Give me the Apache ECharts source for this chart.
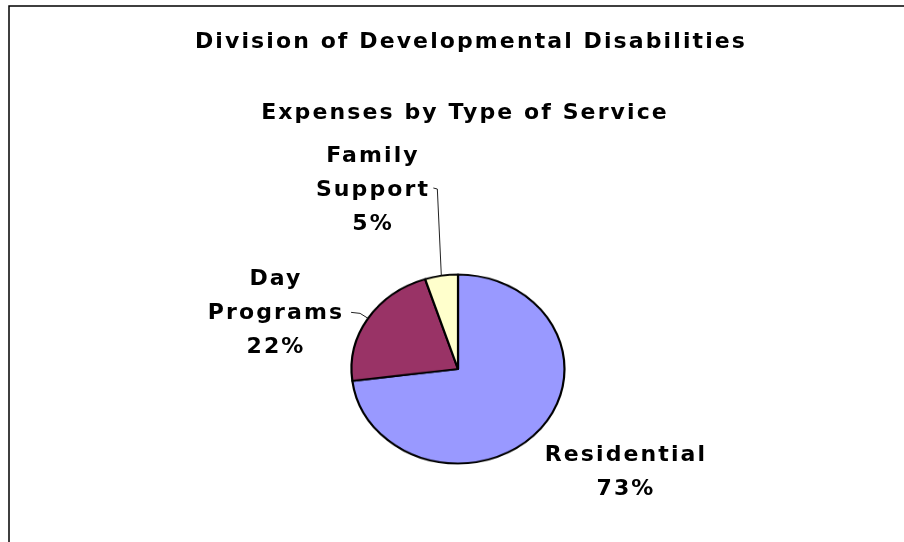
<!DOCTYPE html>
<html>
<head>
<meta charset="utf-8">
<script src="https://cdn.jsdelivr.net/npm/echarts@6/dist/echarts.min.js"></script>
<style>
  body { margin: 0; background: #fff; }
  .layer { position: absolute; left: 0; top: 0; width: 904px; height: 542px; }
  /* the pie is drawn round and squeezed to the oval of the original */
  #pie { z-index: 0; transform-origin: 458px 369px; transform: scaleY(0.8873); }
  #top { z-index: 1; }
  #top text { letter-spacing: 2.1px; }
</style>
</head>
<body>
<div id="pie" class="layer"></div>
<div id="top" class="layer"></div>
<script>
// data
const categories = ['Residential', 'Day Programs', 'Family Support']
const values = [73, 22, 5]
const colors = ['#9999FF', '#993366', '#FFFFCC']

const cx = 458
const cy = 369
const rx = 106.5
const ky = 0.8873 // vertical squeeze of the oval
const font = 'DejaVu Sans, Verdana, sans-serif'

// label block centres
const labelPos = [
  [626, 470],
  [276, 311],
  [373, 188]
]

const pieData = categories.map(function (name, i) {
  return { name: name, value: values[i], itemStyle: { color: colors[i] } }
})

const pieChart = echarts.init(document.getElementById('pie'))
pieChart.setOption({
  animation: false,
  series: [
    {
      type: 'pie',
      center: [cx, cy],
      radius: rx,
      startAngle: 90,
      clockwise: true,
      silent: true,
      label: { show: false },
      labelLine: { show: false },
      itemStyle: { borderColor: '#000', borderWidth: 2.2 },
      data: pieData
    }
  ]
})

const topChart = echarts.init(document.getElementById('top'), null, { renderer: 'svg' })
topChart.setOption({
  animation: false,
  title: [
    {
      text: 'Division of Developmental Disabilities',
      left: 471,
      top: 29,
      textAlign: 'center',
      padding: 0,
      textStyle: { fontFamily: font, fontSize: 22, fontWeight: 'bold', color: '#000', lineHeight: 22 }
    },
    {
      text: 'Expenses by Type of Service',
      left: 465,
      top: 100,
      textAlign: 'center',
      padding: 0,
      textStyle: { fontFamily: font, fontSize: 22, fontWeight: 'bold', color: '#000', lineHeight: 22 }
    }
  ],
  graphic: [
    {
      type: 'rect',
      shape: { x: 9, y: 6, width: 1200, height: 1200 },
      style: { fill: 'none', stroke: '#000', lineWidth: 1.5 },
      silent: true
    }
  ],
  series: [
    {
      type: 'pie',
      center: [cx, cy],
      radius: rx,
      startAngle: 90,
      clockwise: true,
      silent: true,
      itemStyle: { color: 'rgba(0,0,0,0)', borderWidth: 0 },
      label: {
        show: true,
        position: 'outside',
        color: '#000',
        fontFamily: font,
        fontSize: 22,
        fontWeight: 'bold',
        lineHeight: 34,
        formatter: function (p) {
          return p.name.replace(' ', '\n') + '\n' + Math.round(p.percent) + '%'
        }
      },
      labelLine: {
        show: true,
        length: 20,
        length2: 10,
        lineStyle: { color: '#222', width: 1 }
      },
      labelLayout: function (p) {
        const i = p.dataIndex
        const res = { x: labelPos[i][0], y: labelPos[i][1], align: 'center', verticalAlign: 'middle' }
        if (p.labelLinePoints && i > 0) {
          const s = p.labelLinePoints[0]
          const e = [s[0], cy + (s[1] - cy) * ky]
          if (i === 1) {
            res.labelLinePoints = [e, [e[0] - 8, e[1] - 5], [e[0] - 17, e[1] - 6]]
          } else {
            res.labelLinePoints = [e, [e[0] - 4, labelPos[i][1] + 1], [e[0] - 8, labelPos[i][1]]]
          }
        }
        return res
      },
      data: categories.map(function (name, i) {
        const d = { name: name, value: values[i] }
        if (i === 0) d.labelLine = { show: false }
        return d
      })
    }
  ]
})
</script>
</body>
</html>
